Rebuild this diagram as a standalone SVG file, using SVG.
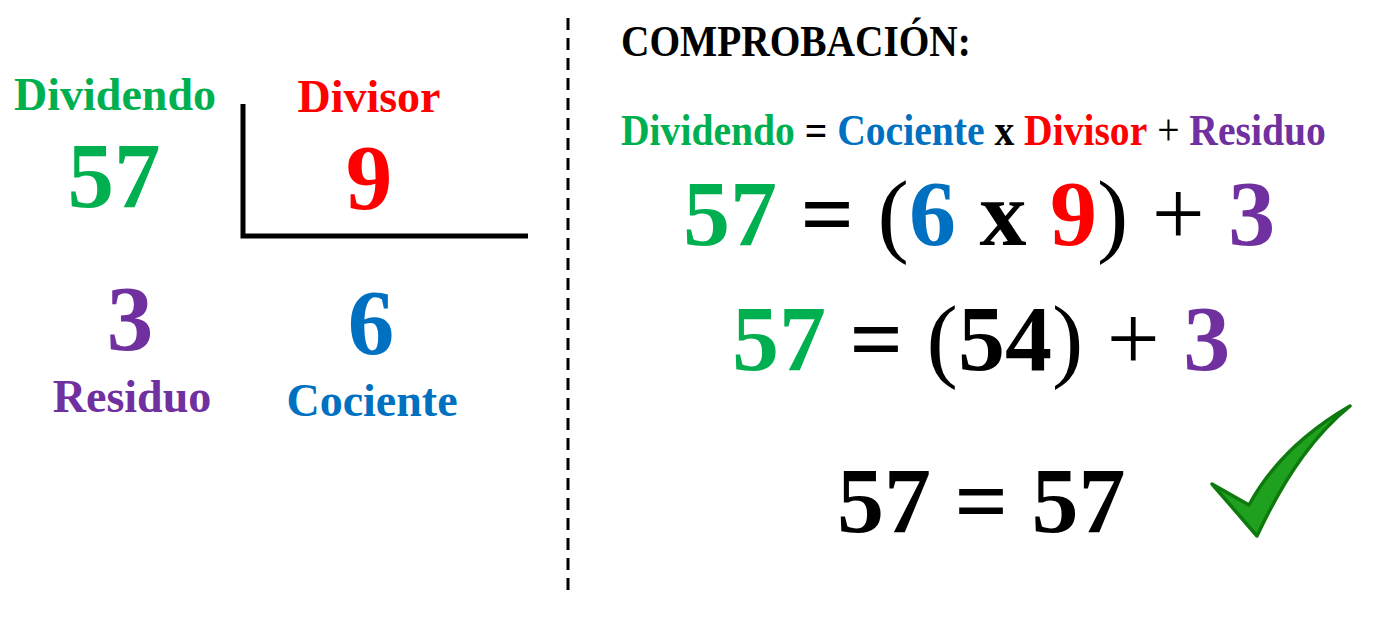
<svg xmlns="http://www.w3.org/2000/svg" width="1374" height="634" viewBox="0 0 1374 634">
<style>
text{font-family:"Liberation Serif","Times New Roman",serif;font-weight:bold}
.lbl{font-size:46px;text-anchor:middle}
.num{font-size:93px;text-anchor:middle}
.eq{font-size:94px}
.g{fill:#00B050}.r{fill:#FF0000}.b{fill:#0070C0}.p{fill:#7030A0}.k{fill:#000}
.n{font-weight:normal}
</style>
<rect width="1374" height="634" fill="#fff"/>
<g id="connectors">
<polyline points="243,104 243,236 528,236" fill="none" stroke="#000" stroke-width="5"/>
<line x1="568" y1="18" x2="568" y2="592" stroke="#000" stroke-width="3" stroke-dasharray="12 8"/>
</g>
<g id="dividendo"><text class="lbl g" x="115" y="110">Dividendo</text><text class="num g" x="114" y="207">57</text></g>
<g id="divisor"><text class="lbl r" x="369" y="112">Divisor</text><text class="num r" x="369" y="209">9</text></g>
<g id="residuo"><text class="num p" x="130" y="350">3</text><text class="lbl p" x="132" y="412">Residuo</text></g>
<g id="cociente"><text class="num b" x="371" y="354">6</text><text class="lbl b" x="372" y="416">Cociente</text></g>
<g id="comprobacion">
<text class="k" font-size="45" transform="translate(621,56) scale(0.875,1)">COMPROBACIÓN:</text>
<text font-size="45" transform="translate(621,145) scale(0.88,1)"><tspan class="g">Dividendo</tspan> <tspan class="k">=</tspan> <tspan class="b">Cociente</tspan> <tspan class="k">x</tspan> <tspan class="r">Divisor</tspan> <tspan class="k n">+</tspan> <tspan class="p">Residuo</tspan></text>
<text class="eq" x="683" y="245"><tspan class="g">57</tspan> <tspan class="k">=</tspan> <tspan class="k n">(</tspan><tspan class="b">6</tspan> <tspan class="k">x</tspan> <tspan class="r">9</tspan><tspan class="k n">)</tspan> <tspan class="k n">+</tspan> <tspan class="p">3</tspan></text>
<text class="eq" x="732" y="370"><tspan class="g">57</tspan> <tspan class="k">=</tspan> <tspan class="k n">(</tspan><tspan class="k">54</tspan><tspan class="k n">)</tspan> <tspan class="k n">+</tspan> <tspan class="p">3</tspan></text>
<text class="eq k" x="837" y="532">57 = 57</text>
</g>
<g id="checkmark">
<path d="M1212,484 L1249,505 C1268,470 1300,435 1350,406 C1318,432 1288,470 1257,536 Z" fill="#1FA01F" stroke="#0E7A0E" stroke-width="3.5" stroke-linejoin="round"/>
</g>
</svg>
